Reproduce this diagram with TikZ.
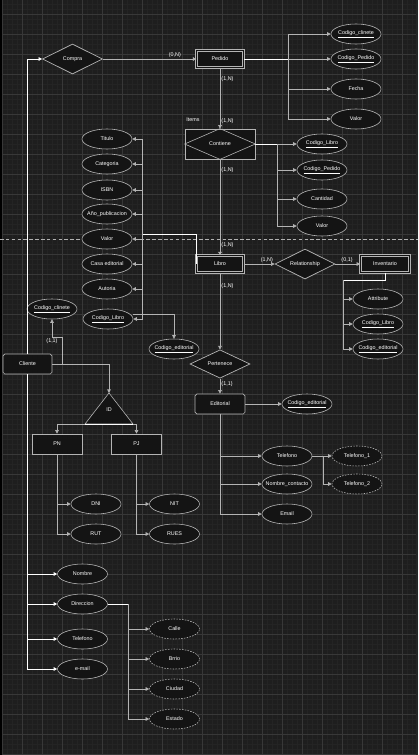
\documentclass[tikz,border=0pt]{standalone}
\usepackage{fontspec}
\setmainfont{Liberation Sans}
\usetikzlibrary{shapes.geometric,arrows.meta}
\definecolor{bgc}{HTML}{1E1E1E}
\definecolor{shapec}{HTML}{141414}
\definecolor{linec}{HTML}{B4B4B4}
\definecolor{gridc}{HTML}{383838}
\definecolor{gridm}{HTML}{242424}
\newcommand{\erfont}{\fontsize{4.6}{5.5}\selectfont}

\begin{document}
\begin{tikzpicture}[
  x=0.03cm, y=-0.03cm,
  every node/.style={text=white, font=\erfont},
  entity/.style={draw=linec, fill=shapec, double=shapec, double distance=1.4pt, line width=0.5pt, minimum width=1.4cm, minimum height=0.5cm, inner sep=0pt},
  plainbox/.style={draw=linec, fill=shapec, line width=0.6pt, minimum width=1.5cm, minimum height=0.6cm, inner sep=0pt},
  attr/.style={ellipse, draw=linec, fill=shapec, line width=0.5pt, minimum width=1.5cm, minimum height=0.6cm, inner xsep=-12pt, inner ysep=0pt},
  multi/.style={attr, dash pattern=on 1.3pt off 1.1pt},
  rel/.style={diamond, aspect=2, draw=linec, fill=shapec, line width=0.6pt, minimum width=1.8cm, minimum height=0.9cm, inner sep=0pt},
  card/.style={inner sep=1pt},
  link/.style={draw=linec, line width=0.5pt},
  wlink/.style={draw=white, line width=0.6pt},
  >={Triangle[length=3pt, width=3pt]}
]
\useasboundingbox (0,0) rectangle (418,755);
\fill[bgc] (0,0) rectangle (418,755);
\foreach \gx in {2,7,...,417} \draw[gridm, line width=0.3pt] (\gx,0) -- (\gx,755);
\foreach \gy in {4,9,...,754} \draw[gridm, line width=0.3pt] (0,\gy) -- (418,\gy);
\foreach \gx in {2,22,...,417} \draw[gridc, line width=0.4pt] (\gx,0) -- (\gx,755);
\foreach \gy in {14,34,...,754} \draw[gridc, line width=0.4pt] (0,\gy) -- (418,\gy);
\fill[black] (0,0) rectangle (2,755);
\fill[black!85] (416,0) rectangle (418,755);
\draw[gray!60, line width=0.4pt, dash pattern=on 3pt off 2pt] (0,239) -- (418,239);

\node[rel] (Compra) at (72.5,59) {Compra};
\node[entity] (Pedido) at (220,59) {Pedido};
\node[attr] (PCodCli) at (356,34) {\underline{Codigo\_clinete}};
\node[attr] (PCodPed) at (356,59) {\underline{Codigo\_Pedido}};
\node[attr] (Fecha) at (356,89) {Fecha};
\node[attr] (PValor) at (356,119) {Valor};

\node[plainbox, minimum width=2.1cm, minimum height=0.9cm] (Contiene) at (220,144) {};
\draw[link] (Contiene.west) -- (Contiene.north) -- (Contiene.east) -- (Contiene.south) -- cycle;
\node at (Contiene) {Contiene};
\node[card] (items) at (193,120) {Items};
\node[attr] (CCodLibro) at (322,144) {\underline{Codigo\_Libro}};
\node[attr] (CCodPed) at (322,170) {\underline{Codigo\_Pedido}};
\node[attr] (Cantidad) at (322,199) {Cantidad};
\node[attr] (CValor) at (322,226) {Valor};

\node[entity] (Libro) at (220,264) {Libro};
\node[attr] (Titulo) at (107,139) {Titulo};
\node[attr] (Categoria) at (107,164) {Categoria};
\node[attr] (ISBN) at (107,190) {ISBN};
\node[attr] (Anio) at (107,214) {Año\_publicacion};
\node[attr] (LValor) at (107,239) {Valor};
\node[attr] (Casa) at (107,264) {Casa editorial};
\node[attr] (Autoria) at (107,289) {Autoria};
\node[attr] (LCodLibro) at (108,319) {\underline{Codigo\_Libro}};
\node[attr] (LCodEdit) at (174,349) {\underline{Codigo\_editorial}};

\node[rel] (Relationship) at (305,264) {Relationship};
\node[entity, minimum width=1.47cm] (Inventario) at (385,264) {Inventario};
\node[attr] (Attribute) at (378,299) {Attribute};
\node[attr] (ICodLibro) at (378,324) {\underline{Codigo\_Libro}};
\node[attr] (ICodEdit) at (378,349) {\underline{Codigo\_editorial}};

\node[rel, minimum height=0.85cm] (Pertenece) at (220,364) {Pertenece};
\node[plainbox, rounded corners=1.5pt] (Editorial) at (220,404) {Editorial};
\node[attr] (ECodEdit) at (307,404) {\underline{Codigo\_editorial}};
\node[attr] (ETel) at (287,456) {Telefono};
\node[multi] (Tel1) at (357,456) {Telefono\_1};
\node[multi] (Tel2) at (357,484) {Telefono\_2};
\node[attr] (Contacto) at (287,484) {Nombre\_contacto};
\node[attr] (Email) at (287,514) {Email};

\node[plainbox, rounded corners=1.5pt, minimum width=1.47cm] (Cliente) at (27.5,364) {Cliente};
\node[attr] (CCodCli) at (52,309) {\underline{Codigo\_clinete}};
\coordinate (IDapex) at (109,393);
\coordinate (IDleft) at (85,424);
\coordinate (IDright) at (133,424);
\draw[link, fill=shapec] (IDapex) -- (IDright) -- (IDleft) -- cycle;
\draw[wlink] (IDleft) -- (IDright);
\node (ID) at (109,410) {ID};
\node[plainbox] (PN) at (57,444) {PN};
\node[plainbox] (PJ) at (136.5,444) {PJ};
\node[attr] (DNI) at (96,504) {DNI};
\node[attr] (RUT) at (96,534) {RUT};
\node[attr] (NIT) at (174.5,504) {NIT};
\node[attr] (RUES) at (174.5,534) {RUES};
\node[attr] (Nombre) at (82.5,574) {Nombre};
\node[attr] (Direccion) at (82.5,604) {Direccion};
\node[attr] (CTel) at (82.5,639) {Telefono};
\node[attr] (Mail) at (82.5,669) {e-mail};
\node[multi] (Calle) at (174.5,629) {Calle};
\node[multi] (Brrio) at (174.5,659) {Brrio};
\node[multi] (Ciudad) at (174.5,689) {Ciudad};
\node[multi] (Estado) at (174.5,719) {Estado};

\coordinate (pbus) at (288,59);
\coordinate (cbus) at (277,144);
\coordinate (lbus) at (142,234);
\coordinate (ibus) at (343,280);
\coordinate (tbus) at (323,456);
\coordinate (cc1) at (62,337);
\coordinate (dbus) at (128,604);

\draw[wlink, ->] (Cliente.north) |- (Compra.west);
\draw[link, ->] (Compra.east) -- (Pedido.west) node[card, pos=0.77, above] {(0,N)};
\draw[wlink] (Pedido.east) -- (pbus);
\draw[link, ->] (pbus) |- (PCodCli.west);
\draw[link, ->] (pbus) |- (PCodPed.west);
\draw[link, ->] (pbus) |- (Fecha.west);
\draw[link, ->] (pbus) |- (PValor.west);
\draw[link, ->] (Pedido.south) -- (Contiene.north)
  node[card, pos=0.19, right] {(1,N)} node[card, pos=0.87, right] {(1,N)};

\draw[wlink] (Contiene.east) -- (cbus);
\draw[link, ->] (cbus) |- (CCodLibro.west);
\draw[link, ->] (cbus) |- (CCodPed.west);
\draw[link, ->] (cbus) |- (Cantidad.west);
\draw[link, ->] (cbus) |- (CValor.west);
\draw[link, ->] (Contiene.south) -- (Libro.north)
  node[card, pos=0.11, right] {(1,N)} node[card, pos=0.89, right] {(1,N)};

\draw[wlink] (Libro.west) |- (lbus);
\draw[link, ->] (lbus) |- (Titulo.east);
\draw[link, ->] (lbus) |- (Categoria.east);
\draw[link, ->] (lbus) |- (ISBN.east);
\draw[link, ->] (lbus) |- (Anio.east);
\draw[link, ->] (lbus) |- (LValor.east);
\draw[link, ->] (lbus) |- (Casa.east);
\draw[link, ->] (lbus) |- (Autoria.east);
\draw[link, ->] (lbus) |- (LCodLibro.east);
\draw[link, ->] ([yshift=1.5mm]LCodLibro.east) -| (LCodEdit.north);

\draw[link, ->] (Libro.east) -- (Relationship.west) node[card, pos=0.75, above] {(1,N)};
\draw[link, ->] (Relationship.east) -- (Inventario.west) node[card, pos=0.47, above] {(0,1)};
\draw[wlink] (Inventario.south) |- (ibus);
\draw[link, ->] (ibus) |- (Attribute.west);
\draw[link, ->] (ibus) |- (ICodLibro.west);
\draw[link, ->] (ibus) |- (ICodEdit.west);

\draw[link, ->] (Libro.south) -- (Pertenece.north) node[card, pos=0.17, right] {(1,N)};
\draw[link, ->] (Pertenece.south) -- (Editorial.north) node[card, pos=0.4, right] {(1,1)};
\draw[link, ->] (Editorial.east) -- (ECodEdit.west);
\draw[link, ->] (Editorial.south) |- (ETel.west);
\draw[link, ->] (Editorial.south) |- (Contacto.west);
\draw[link, ->] (Editorial.south) |- (Email.west);
\draw[link] (ETel.east) -- (tbus);
\draw[link, ->] (tbus) |- (Tel1.west);
\draw[link, ->] (tbus) |- (Tel2.west);

\draw[link, ->] (Cliente.east) -| (cc1) -| (CCodCli.south) node[card, pos=0.5, below] {(1,1)};
\draw[link, ->] (Cliente.east) -| (IDapex);
\draw[link, ->] (IDleft) -| (PN.north);
\draw[link, ->] (IDright) -| (PJ.north);
\draw[link, ->] (PN.south) |- (DNI.west);
\draw[link, ->] (PN.south) |- (RUT.west);
\draw[link, ->] (PJ.south) |- (NIT.west);
\draw[link, ->] (PJ.south) |- (RUES.west);

\draw[wlink, ->] (Cliente.south) |- (Nombre.west);
\draw[wlink, ->] (Cliente.south) |- (Direccion.west);
\draw[wlink, ->] (Cliente.south) |- (CTel.west);
\draw[wlink, ->] (Cliente.south) |- (Mail.west);
\draw[wlink] (Direccion.east) -- (dbus);
\draw[link, ->] (dbus) |- (Calle.west);
\draw[link, ->] (dbus) |- (Brrio.west);
\draw[link, ->] (dbus) |- (Ciudad.west);
\draw[link, ->] (dbus) |- (Estado.west);
\end{tikzpicture}
\end{document}
